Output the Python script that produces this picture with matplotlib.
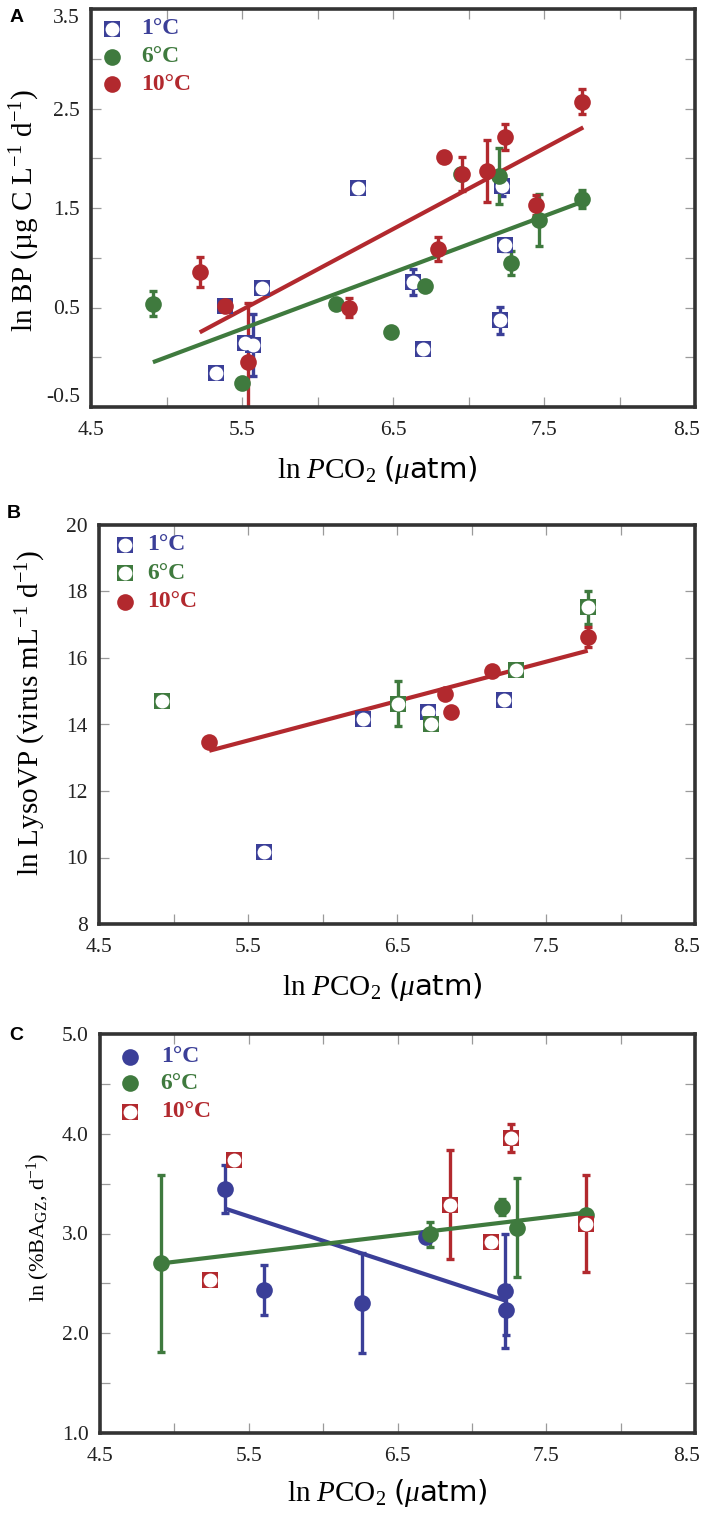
import numpy as np
import matplotlib
matplotlib.use('Agg')
import matplotlib.pyplot as plt
from matplotlib.transforms import ScaledTranslation

plt.rcParams['mathtext.fontset'] = 'custom'
plt.rcParams['mathtext.rm'] = 'Liberation Serif'
plt.rcParams['mathtext.it'] = 'Liberation Serif:italic'
plt.rcParams['mathtext.bf'] = 'Liberation Serif:bold'
plt.rcParams['mathtext.sf'] = 'DejaVu Sans'

BLUE = '#3b3f98'
GREEN = '#3f7a3e'
RED = '#b2292e'
SERIF = 'Liberation Serif'

# Panel A: ln BP
a1_x = [6.27, 5.63, 5.39, 5.52, 5.57, 5.33, 6.63, 6.70, 7.21, 7.24, 7.22]
a1_y = [1.70, 0.70, 0.52, 0.14, 0.12, -0.16, 0.76, 0.08, 0.37, 1.13, 1.72]
a1_e = [0, 0, 0, 0, 0.31, 0, 0.13, 0, 0.14, 0.06, 0.10]

a6_x = [4.91, 5.50, 6.12, 6.49, 6.71, 6.95, 7.20, 7.28, 7.47, 7.75]
a6_y = [0.54, -0.26, 0.54, 0.25, 0.72, 1.84, 1.82, 0.95, 1.38, 1.59]
a6_e = [0.13, 0, 0, 0, 0, 0, 0.28, 0.12, 0.26, 0.09]
a6_fit_x = [4.91, 7.75]
a6_fit_y = [-0.05, 1.56]

a10_x = [5.22, 5.39, 5.54, 6.21, 6.80, 6.84, 6.96, 7.12, 7.24, 7.45, 7.75]
a10_y = [0.86, 0.52, -0.05, 0.50, 1.09, 2.01, 1.84, 1.87, 2.21, 1.53, 2.57]
a10_e = [0.15, 0, 0.60, 0.10, 0.12, 0.05, 0.17, 0.31, 0.13, 0.10, 0.13]
a10_fit_x = [5.22, 7.76]
a10_fit_y = [0.25, 2.31]

# Panel B: ln LysoVP
b1_x = [6.27, 6.71, 7.22, 5.61]
b1_y = [14.17, 14.39, 14.74, 10.18]
b1_e = [0.12, 0.12, 0.15, 0]

b6_x = [4.92, 6.51, 6.73, 7.30, 7.78]
b6_y = [14.71, 14.62, 14.00, 15.64, 17.52]
b6_e = [0, 0.68, 0, 0, 0.50]

b10_x = [5.24, 6.82, 6.86, 7.14, 7.78]
b10_y = [13.46, 14.92, 14.39, 15.62, 16.64]
b10_e = [0, 0, 0, 0, 0.30]
b10_fit_x = [5.24, 7.78]
b10_fit_y = [13.21, 16.22]

# Panel C: ln (%BA_GZ)
c1_x = [6.69, 5.34, 5.60, 6.26, 7.22, 7.23]
c1_y = [2.96, 3.45, 2.43, 2.30, 2.42, 2.23]
c1_e = [0.05, 0.24, 0.25, 0.50, 0.57, 0.25]
c1_fit_x = [5.34, 7.22]
c1_fit_y = [3.25, 2.33]

c6_x = [4.91, 6.72, 7.20, 7.30, 7.77]
c6_y = [2.70, 2.99, 3.27, 3.06, 3.19]
c6_e = [0.89, 0.13, 0.08, 0.50, 0]
c6_fit_x = [4.91, 7.77]
c6_fit_y = [2.70, 3.21]

c10_x = [5.24, 5.40, 6.85, 7.13, 7.26, 7.77]
c10_y = [2.53, 3.74, 3.29, 2.91, 3.96, 3.10]
c10_e = [0, 0, 0.55, 0, 0.14, 0.49]

legend_labels = ['1°C', '6°C', '10°C']
xtick_major = [4.5, 5.5, 6.5, 7.5, 8.5]
xtick_minor = [5.0, 6.0, 7.0, 8.0]

W, H = 706, 1523
fig = plt.figure(figsize=(W / 100, H / 100), dpi=100)


def px_axes(l, t, r, b):
    return fig.add_axes([l / W, 1 - b / H, (r - l) / W, (b - t) / H])


def square_marker(ax, x, y, color, z, **kw):
    ax.plot(x, y, 's', color=color, ms=12, mew=0, ls='none', zorder=z, **kw)
    ax.plot(x, y, 'o', color='white', ms=10, mew=0, ls='none', zorder=z + 0.01, **kw)


def draw_series(ax, x, y, e, color, open_sq, z, fit_x=None, fit_y=None):
    ax.errorbar(x, y, yerr=e, fmt='none', ecolor=color, elinewidth=2.4,
                capsize=3.2, capthick=2.4, zorder=2)
    if fit_x is not None:
        ax.plot(fit_x, fit_y, color=color, lw=3, solid_capstyle='butt', zorder=3)
    if open_sq:
        square_marker(ax, x, y, color, z)
    else:
        ax.plot(x, y, 'o', color=color, ms=12, mew=0, ls='none', zorder=z)


def style_axes(ax, ylim, yt_major, yt_labels, yt_minor):
    ax.set_xlim(4.5, 8.5)
    ax.set_ylim(*ylim)
    ax.set_xticks(xtick_major)
    ax.set_xticklabels(['%.1f' % v for v in xtick_major])
    ax.set_xticks(xtick_minor, minor=True)
    ax.set_yticks(yt_major)
    ax.set_yticklabels(yt_labels)
    ax.set_yticks(yt_minor, minor=True)
    ax.tick_params(which='both', direction='in', top=True, right=True,
                   color='#9a9a9a', width=0.9, length=7)
    ax.tick_params(axis='x', which='major', pad=10)
    ax.tick_params(axis='y', which='major', pad=8)
    for lab in ax.get_xticklabels() + ax.get_yticklabels():
        lab.set_fontfamily(SERIF)
        lab.set_fontsize(15.5)
        lab.set_color('#222222')
    # keep the last x label inside the figure
    last = ax.get_xticklabels()[-1]
    last.set_ha('right')
    last.set_transform(last.get_transform() + ScaledTranslation(0.05, 0, fig.dpi_scale_trans))
    for sp in ax.spines.values():
        sp.set_color('#333333')
        sp.set_linewidth(2.6)


def legend(ax, x0, xt, ys, colors, kinds):
    for yy, c, k, lab in zip(ys, colors, kinds, legend_labels):
        if k == 'sq':
            square_marker(ax, [x0], [yy], c, 10, transform=ax.transAxes, clip_on=False)
        else:
            ax.plot([x0], [yy], 'o', color=c, ms=12, mew=0, transform=ax.transAxes,
                    zorder=10, clip_on=False)
        ax.text(xt, yy, lab, transform=ax.transAxes, color=c, fontfamily=SERIF,
                fontweight='bold', fontsize=17, va='center', ha='left')


xlab = r'$\mathrm{ln}\ \mathit{P}\mathrm{CO}_{\mathrm{2}}\ \mathsf{(}\mu\mathsf{atm)}$'

# ---- A ----
axA = px_axes(91, 9, 695, 407)
draw_series(axA, a1_x, a1_y, a1_e, BLUE, True, 4)
draw_series(axA, a6_x, a6_y, a6_e, GREEN, False, 5, a6_fit_x, a6_fit_y)
draw_series(axA, a10_x, a10_y, a10_e, RED, False, 6, a10_fit_x, a10_fit_y)
style_axes(axA, (-0.5, 3.5), [-0.5, 0.5, 1.5, 2.5, 3.5],
           ['-0.5', '0.5', '1.5', '2.5', '3.5'], [0, 1, 2, 3])
ylabs = axA.get_yticklabels()
ylabs[0].set_va('bottom')
ylabs[-1].set_va('top')
legend(axA, 0.035, 0.083, [0.951, 0.880, 0.811], [BLUE, GREEN, RED], ['sq', 'o', 'o'])
fig.text(25 / W, 1 - 210 / H, r'ln BP (µg C L$^{\mathrm{-1}}$ d$^{\mathrm{-1}}$)',
         rotation=90, ha='center', va='center', fontfamily=SERIF, fontsize=21)
fig.text(377 / W, 1 - 470 / H, xlab, ha='center', va='center', fontsize=21)
fig.text(17 / W, 1 - 18 / H, 'A', fontfamily='Liberation Sans', fontweight='bold',
         fontsize=14, ha='center', va='center')

# ---- B ----
axB = px_axes(99, 525, 695, 924)
draw_series(axB, b1_x, b1_y, b1_e, BLUE, True, 4)
draw_series(axB, b6_x, b6_y, b6_e, GREEN, True, 5)
draw_series(axB, b10_x, b10_y, b10_e, RED, False, 6, b10_fit_x, b10_fit_y)
style_axes(axB, (8, 20), [8, 10, 12, 14, 16, 18, 20],
           ['8', '10', '12', '14', '16', '18', '20'], [])
legend(axB, 0.043, 0.081, [0.950, 0.879, 0.808], [BLUE, GREEN, RED], ['sq', 'sq', 'o'])
fig.text(31 / W, 1 - 713 / H, r'ln LysoVP (virus mL$^{\mathrm{-1}}$ d$^{\mathrm{-1}}$)',
         rotation=90, ha='center', va='center', fontfamily=SERIF, fontsize=21)
fig.text(382 / W, 1 - 987 / H, xlab, ha='center', va='center', fontsize=21)
fig.text(14 / W, 1 - 513 / H, 'B', fontfamily='Liberation Sans', fontweight='bold',
         fontsize=14, ha='center', va='center')

# ---- C ----
axC = px_axes(100, 1034, 695, 1433)
draw_series(axC, c1_x, c1_y, c1_e, BLUE, False, 4, c1_fit_x, c1_fit_y)
draw_series(axC, c6_x, c6_y, c6_e, GREEN, False, 5, c6_fit_x, c6_fit_y)
draw_series(axC, c10_x, c10_y, c10_e, RED, True, 6)
style_axes(axC, (1.0, 5.0), [1, 2, 3, 4, 5],
           ['1.0', '2.0', '3.0', '4.0', '5.0'], [1.5, 2.5, 3.5, 4.5])
legend(axC, 0.051, 0.102, [0.943, 0.876, 0.805], [BLUE, GREEN, RED], ['o', 'o', 'sq'])
fig.text(38 / W, 1 - 1227 / H, r'ln (%BA$_{\mathrm{GZ}}$, d$^{\mathrm{-1}}$)',
         rotation=90, ha='center', va='center', fontfamily=SERIF, fontsize=16)
fig.text(387 / W, 1 - 1493 / H, xlab, ha='center', va='center', fontsize=21)
fig.text(16 / W, 1 - 1035 / H, 'C', fontfamily='Liberation Sans', fontweight='bold',
         fontsize=14, ha='center', va='center')

fig.savefig('out.png', dpi=100)
